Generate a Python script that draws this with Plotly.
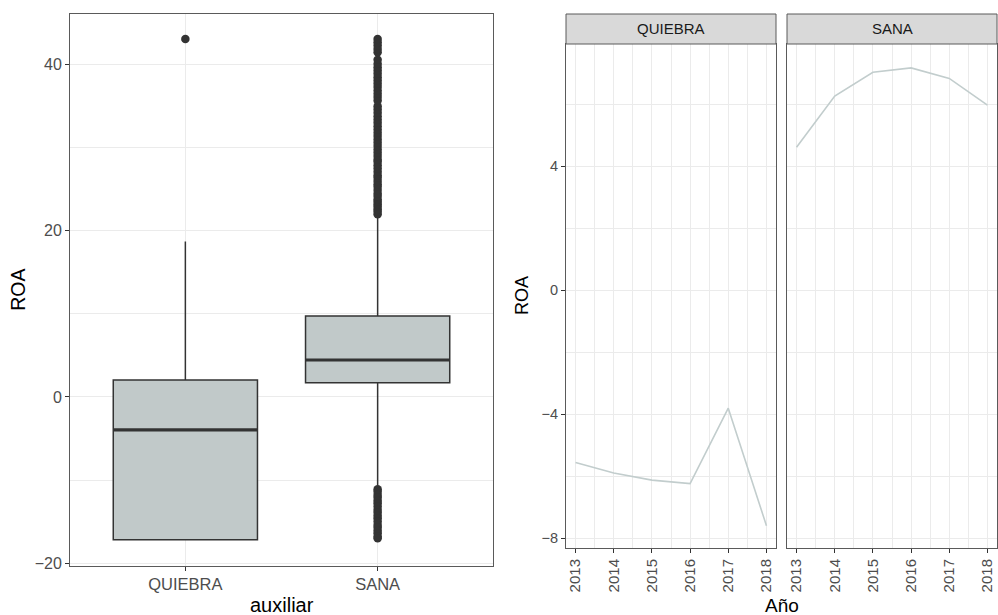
import plotly.graph_objects as go

# ---------------- data ----------------
categories = ["QUIEBRA", "SANA"]
box_q1 = [-17.2, 1.7]
box_median = [-3.95, 4.45]
box_q3 = [2.05, 9.75]
box_lower = [-17.2, -10.7]
box_upper = [18.7, 21.8]

quiebra_outliers = [43.1]
sana_outliers = [
    22.0, 22.3, 22.6, 22.9, 23.2, 23.5, 23.8, 24.2, 24.5, 24.9, 25.3, 25.6,
    26.0, 26.4, 26.7, 27.1, 27.5, 27.9, 28.3, 28.6, 29.0, 29.4, 29.8, 30.2,
    30.6, 31.0, 31.4, 31.8, 32.2, 32.6, 33.0, 33.4, 33.8, 34.2, 34.6, 35.0,
    35.7, 36.1, 36.5, 36.9, 37.3, 37.7, 38.1, 38.5, 38.9, 39.3, 39.7, 40.1,
    40.6, 41.5, 41.9, 42.3, 42.7, 43.1,
    -11.1, -11.4, -11.8, -12.1, -12.5, -12.8, -13.2, -13.6, -13.9, -14.3,
    -14.6, -15.0, -15.4, -15.7, -16.1, -16.4, -16.8, -17.0,
]

years = [2013, 2014, 2015, 2016, 2017, 2018]
roa_quiebra = [-5.56, -5.90, -6.13, -6.24, -3.81, -7.60]
roa_sana = [4.61, 6.26, 7.03, 7.17, 6.83, 5.97]

left_yticks = [-20, 0, 20, 40]
left_yminor = [-10, 10, 30]
right_yticks = [-8, -4, 0, 4]
right_yminor = [-6, -2, 2, 6]

# ---------------- styling ----------------
W, H = 998, 615
FONT = "Liberation Sans, Arial, Helvetica, sans-serif"
BOX_FILL = "#c1c9c9"
LINE_COL = "#c2cdcd"
DARK = "#333333"
GRID = "#ebebeb"
TICKTXT = "#4d4d4d"
BORDER = "#5a5a5a"


def px_x(p):
    return p / W


def px_y(p):
    return 1 - p / H


positions = [i + 1 for i in range(len(categories))]
box_w = 0.75

fig = go.Figure()

fig.add_trace(go.Box(
    x=positions, q1=box_q1, median=box_median, q3=box_q3,
    lowerfence=box_lower, upperfence=box_upper,
    width=box_w, whiskerwidth=0, boxpoints=False,
    fillcolor=BOX_FILL, line=dict(color=DARK, width=1.5),
    xaxis="x", yaxis="y", showlegend=False, hoverinfo="skip",
))

# thicker median lines (ggplot fatten)
for pos, med in zip(positions, box_median):
    fig.add_trace(go.Scatter(
        x=[pos - box_w / 2, pos + box_w / 2], y=[med, med], mode="lines",
        line=dict(color=DARK, width=3.2), xaxis="x", yaxis="y",
        showlegend=False, hoverinfo="skip",
    ))

fig.add_trace(go.Scatter(
    x=[positions[0]] * len(quiebra_outliers) + [positions[1]] * len(sana_outliers),
    y=quiebra_outliers + sana_outliers, mode="markers",
    marker=dict(color=DARK, size=8.5, line=dict(width=0)),
    xaxis="x", yaxis="y", showlegend=False, hoverinfo="skip",
))

fig.add_trace(go.Scatter(
    x=years, y=roa_quiebra, mode="lines", line=dict(color=LINE_COL, width=1.6),
    xaxis="x2", yaxis="y2", showlegend=False,
))
fig.add_trace(go.Scatter(
    x=years, y=roa_sana, mode="lines", line=dict(color=LINE_COL, width=1.6),
    xaxis="x3", yaxis="y3", showlegend=False,
))

common_axis = dict(
    showline=True, mirror=True, linecolor=BORDER, linewidth=1,
    ticks="outside", ticklen=4, tickcolor=DARK, tickwidth=1,
    showgrid=True, gridcolor=GRID, gridwidth=1.3, zeroline=False,
    automargin=False,
)

left_x = (70, 493)
left_y = (14, 565.6)
q_x = (566, 776)
s_x = (787, 997)
r_y = (44, 548)
strip_y = (14, 44)

fig.update_layout(
    width=W, height=H, margin=dict(l=0, r=0, t=0, b=0, autoexpand=False),
    paper_bgcolor="white", plot_bgcolor="white",
    font=dict(family=FONT, color=TICKTXT),
    xaxis=dict(
        **common_axis, domain=[px_x(left_x[0]), px_x(left_x[1])], anchor="y",
        range=[0.4, 2.6], tickvals=positions, ticktext=categories,
        tickfont=dict(size=16.5, color=TICKTXT),
    ),
    yaxis=dict(
        **common_axis, domain=[px_y(left_y[1]), px_y(left_y[0])], anchor="x",
        range=[-20.3, 46.1], tickvals=left_yticks,
        tickfont=dict(size=16, color=TICKTXT),
        minor=dict(tickvals=left_yminor, showgrid=True, gridcolor=GRID, gridwidth=0.7, ticks=""),
    ),
    xaxis2=dict(
        **common_axis, domain=[px_x(q_x[0]), px_x(q_x[1])], anchor="y2",
        range=[2012.75, 2018.25], tickvals=years, tickangle=-90,
        tickfont=dict(size=15, color=TICKTXT),
        minor=dict(dtick=0.5, tick0=2012.5, showgrid=True, gridcolor=GRID, gridwidth=0.7, ticks=""),
    ),
    yaxis2=dict(
        **common_axis, domain=[px_y(r_y[1]), px_y(r_y[0])], anchor="x2",
        range=[-8.32, 7.94], tickvals=right_yticks,
        tickfont=dict(size=14.5, color=TICKTXT),
        minor=dict(tickvals=right_yminor, showgrid=True, gridcolor=GRID, gridwidth=0.7, ticks=""),
    ),
    xaxis3=dict(
        **common_axis, domain=[px_x(s_x[0]), px_x(s_x[1])], anchor="y3",
        range=[2012.75, 2018.25], tickvals=years, tickangle=-90,
        tickfont=dict(size=15, color=TICKTXT),
        minor=dict(dtick=0.5, tick0=2012.5, showgrid=True, gridcolor=GRID, gridwidth=0.7, ticks=""),
    ),
    yaxis3=dict(
        **{k: v for k, v in common_axis.items() if k not in ("ticks",)},
        ticks="", domain=[px_y(r_y[1]), px_y(r_y[0])], anchor="x3",
        range=[-8.32, 7.94], tickvals=right_yticks, showticklabels=False,
        minor=dict(tickvals=right_yminor, showgrid=True, gridcolor=GRID, gridwidth=0.7, ticks=""),
    ),
)

shapes = []
annotations = []
for (x0, x1), lab in zip([q_x, s_x], categories):
    shapes.append(dict(
        type="rect", xref="paper", yref="paper",
        x0=px_x(x0), x1=px_x(x1), y0=px_y(strip_y[1]), y1=px_y(strip_y[0]),
        fillcolor="#d9d9d9", line=dict(color=BORDER, width=1), layer="above",
    ))
    annotations.append(dict(
        text=lab, xref="paper", yref="paper", x=px_x((x0 + x1) / 2),
        y=px_y((strip_y[0] + strip_y[1]) / 2), showarrow=False,
        font=dict(size=15, color="#1a1a1a", family=FONT),
        xanchor="center", yanchor="middle",
    ))

annotations += [
    dict(text="ROA", xref="paper", yref="paper", x=px_x(18), y=px_y((left_y[0] + left_y[1]) / 2),
         textangle=-90, showarrow=False, font=dict(size=19.5, color="black", family=FONT),
         xanchor="center", yanchor="middle"),
    dict(text="auxiliar", xref="paper", yref="paper", x=px_x((left_x[0] + left_x[1]) / 2), y=px_y(605),
         showarrow=False, font=dict(size=20, color="black", family=FONT),
         xanchor="center", yanchor="middle"),
    dict(text="ROA", xref="paper", yref="paper", x=px_x(522), y=px_y((r_y[0] + r_y[1]) / 2),
         textangle=-90, showarrow=False, font=dict(size=18, color="black", family=FONT),
         xanchor="center", yanchor="middle"),
    dict(text="Año", xref="paper", yref="paper", x=px_x((q_x[0] + s_x[1]) / 2), y=px_y(605),
         showarrow=False, font=dict(size=19, color="black", family=FONT),
         xanchor="center", yanchor="middle"),
]

fig.update_layout(shapes=shapes, annotations=annotations)

fig.write_html("out.html")
